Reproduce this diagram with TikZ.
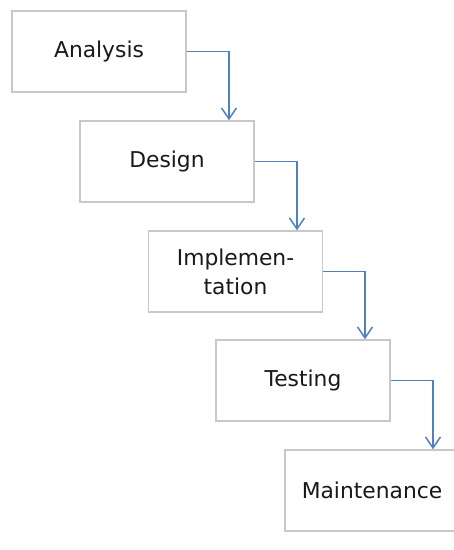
\documentclass[tikz,border=0pt]{standalone}
\usepackage{fontspec}
\setmainfont{DejaVu Sans}
\usetikzlibrary{arrows.meta}
\definecolor{boxgray}{RGB}{200,200,200}
\definecolor{txtgray}{RGB}{25,25,25}
\definecolor{arrowblue}{RGB}{79,129,189}
\begin{document}
\begin{tikzpicture}[x=1pt,y=-1pt,
  phase/.style={draw=boxgray,line width=1.5pt,fill=white,minimum width=174pt,minimum height=81pt,
    inner sep=0pt,align=center,text=txtgray,font=\fontsize{21.8}{29}\selectfont},
  flow/.style={draw=arrowblue,line width=1.5pt,-{Straight Barb[length=11pt,width=15pt,line width=1.5pt]}}]
\useasboundingbox (0,0) rectangle (454,550);
\node[phase] (A) at (99,51.5) {Analysis};
\node[phase] (D) at (167,161.5) {Design};
\node[phase] (I) at (235.5,271.5) {Implemen-\\tation};
\node[phase] (T) at (303,380.5) {Testing};
\node[phase] (M) at (372,490.5) {Maintenance};
\draw[flow] (A.east) -| ([xshift=62pt]D.north);
\draw[flow] (D.east) -| ([xshift=61.5pt]I.north);
\draw[flow] (I.east) -| ([xshift=62pt]T.north);
\draw[flow] (T.east) -| ([xshift=61pt]M.north);
\end{tikzpicture}
\end{document}
